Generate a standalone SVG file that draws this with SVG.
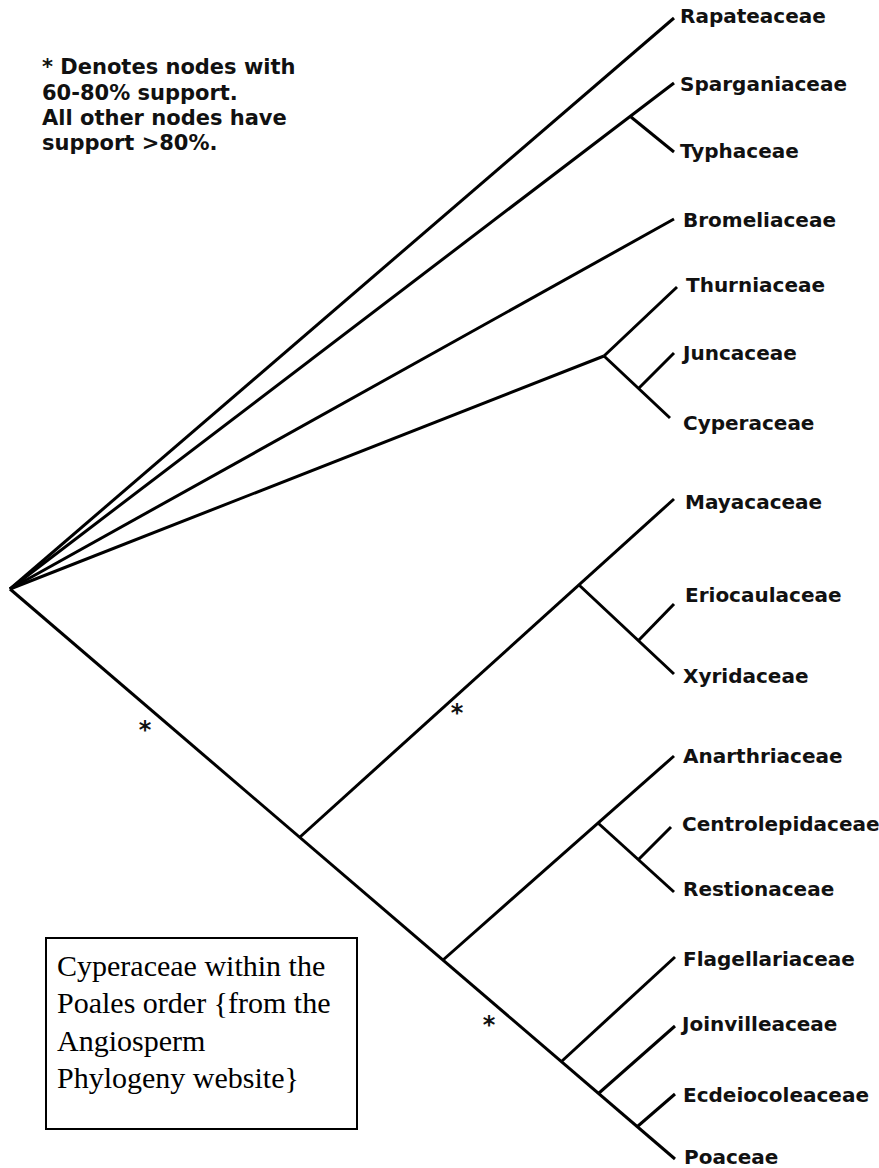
<svg xmlns="http://www.w3.org/2000/svg" width="879" height="1168" viewBox="0 0 879 1168">
<style>
.br{stroke:#000;stroke-width:3;fill:none;stroke-linecap:butt}
.lb{font-family:"DejaVu Sans",Verdana,sans-serif;font-weight:bold;font-size:20px;fill:#111}
.note{font-family:"DejaVu Sans",Verdana,sans-serif;font-weight:bold;font-size:21px;fill:#111}
.ast{font-family:"DejaVu Sans",sans-serif;font-weight:bold;font-size:24px;fill:#111;text-anchor:middle}
.cap{font-family:"Liberation Serif","Times New Roman",serif;font-size:30px;fill:#000}
</style>
<rect width="879" height="1168" fill="#fff"/>
<g id="connectors" class="br">
<line x1="10" y1="589" x2="674" y2="18"/>
<line x1="10" y1="589" x2="674" y2="83"/>
<line x1="631" y1="117" x2="674" y2="152"/>
<line x1="10" y1="589" x2="674" y2="219"/>
<line x1="10" y1="589" x2="604" y2="356"/>
<line x1="604" y1="356" x2="677" y2="287"/>
<line x1="604" y1="356" x2="670" y2="418"/>
<line x1="639" y1="388" x2="674" y2="353"/>
<line x1="10" y1="589" x2="675" y2="1159"/>
<line x1="300" y1="837" x2="674" y2="499"/>
<line x1="579" y1="585" x2="674" y2="674"/>
<line x1="639" y1="640" x2="674" y2="604"/>
<line x1="443" y1="960" x2="674" y2="756"/>
<line x1="598" y1="823" x2="674" y2="892"/>
<line x1="639" y1="859" x2="671" y2="827"/>
<line x1="562" y1="1061" x2="675" y2="957"/>
<line x1="599" y1="1093" x2="675" y2="1026"/>
<line x1="638" y1="1126" x2="675" y2="1094"/>
</g>
<g id="note">
<text class="note" x="42" y="74">* Denotes nodes with</text>
<text class="note" x="42" y="99.5">60-80% support.</text>
<text class="note" x="42" y="125">All other nodes have</text>
<text class="note" x="42" y="150">support &gt;80%.</text>
</g>
<g id="asterisks">
<text class="ast" x="145" y="738">*</text>
<text class="ast" x="457" y="721">*</text>
<text class="ast" x="489" y="1033">*</text>
</g>
<g id="n-rapateaceae"><text class="lb" x="680" y="23">Rapateaceae</text></g>
<g id="n-sparganiaceae"><text class="lb" x="680" y="91">Sparganiaceae</text></g>
<g id="n-typhaceae"><text class="lb" x="680" y="158">Typhaceae</text></g>
<g id="n-bromeliaceae"><text class="lb" x="683" y="227">Bromeliaceae</text></g>
<g id="n-thurniaceae"><text class="lb" x="686" y="292">Thurniaceae</text></g>
<g id="n-juncaceae"><text class="lb" x="683" y="360">Juncaceae</text></g>
<g id="n-cyperaceae"><text class="lb" x="683" y="430">Cyperaceae</text></g>
<g id="n-mayacaceae"><text class="lb" x="685" y="509">Mayacaceae</text></g>
<g id="n-eriocaulaceae"><text class="lb" x="685" y="602">Eriocaulaceae</text></g>
<g id="n-xyridaceae"><text class="lb" x="683" y="683">Xyridaceae</text></g>
<g id="n-anarthriaceae"><text class="lb" x="683" y="763">Anarthriaceae</text></g>
<g id="n-centrolepidaceae"><text class="lb" x="682" y="831">Centrolepidaceae</text></g>
<g id="n-restionaceae"><text class="lb" x="683" y="896">Restionaceae</text></g>
<g id="n-flagellariaceae"><text class="lb" x="683" y="966">Flagellariaceae</text></g>
<g id="n-joinvilleaceae"><text class="lb" x="682" y="1031">Joinvilleaceae</text></g>
<g id="n-ecdeiocoleaceae"><text class="lb" x="683" y="1102">Ecdeiocoleaceae</text></g>
<g id="n-poaceae"><text class="lb" x="684" y="1164">Poaceae</text></g>
<g id="caption">
<rect x="46" y="938" width="311" height="191" fill="#fff" stroke="#000" stroke-width="2"/>
<text class="cap" x="57" y="976">Cyperaceae within the</text>
<text class="cap" x="57" y="1013">Poales order {from the</text>
<text class="cap" x="57" y="1050.5">Angiosperm</text>
<text class="cap" x="57" y="1088">Phylogeny website}</text>
</g>
</svg>
